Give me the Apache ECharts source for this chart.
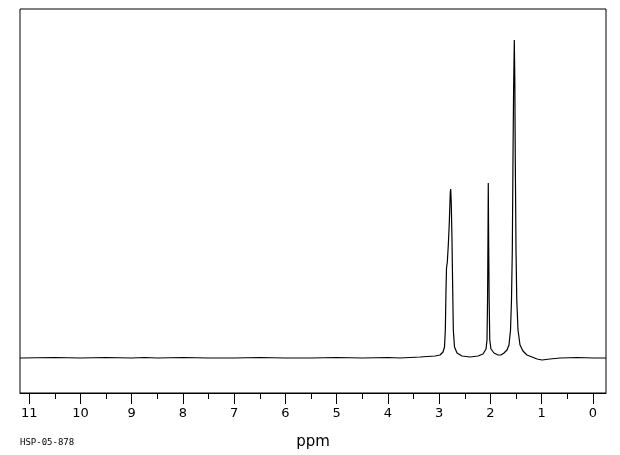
<!DOCTYPE html>
<html>
<head>
<meta charset="utf-8">
<script src="https://cdn.jsdelivr.net/npm/echarts@6/dist/echarts.min.js"></script>
<style>
    html, body { margin: 0; padding: 0; background: #fff; }
    #chart { width: 620px; height: 455px; }
</style>
</head>
<body>
<div id="chart"></div>
<script>
// chemical shift (ppm)
var shiftPpm = [
    11.18, 10.5, 10.0, 9.5, 9.0, 8.75, 8.5, 8.0, 7.5, 7.0, 6.5, 6.0, 5.5, 5.0, 4.5, 4.0,
    3.765, 3.375, 3.08, 2.985, 2.926, 2.897, 2.881, 2.868, 2.858, 2.842, 2.823, 2.803,
    2.784, 2.776, 2.764, 2.751, 2.737, 2.725, 2.702, 2.653, 2.556, 2.40, 2.243, 2.146,
    2.087, 2.068, 2.057, 2.049, 2.043, 2.036, 2.026, 2.014, 1.990, 1.931, 1.853, 1.795,
    1.736, 1.678, 1.639, 1.609, 1.590, 1.574, 1.561, 1.549, 1.535, 1.525, 1.516, 1.502,
    1.487, 1.463, 1.424, 1.366, 1.288, 1.19, 1.092, 0.995, 0.839, 0.644, 0.3, 0.0, -0.254
];
// intensity (arbitrary units)
var intensity = [
    0, 0.5, 0, 0.5, 0, 0.5, 0, 0.5, 0, 0, 0.5, 0, 0, 0.5, 0, 0.5,
    0, 1, 2, 3, 6, 11, 28, 68, 90, 96, 113, 136,
    166, 169, 153, 118, 68, 28, 11, 5, 2, 1, 2, 4,
    9, 18, 58, 118, 175, 118, 58, 18, 9, 5, 3, 3,
    5, 8, 13, 28, 58, 108, 198, 268, 318, 278, 198, 108,
    58, 28, 13, 7, 3, 1, -1, -2, -1, 0, 0.5, 0, 0
];
var majorTicks = [0, 1, 2, 3, 4, 5, 6, 7, 8, 9, 10, 11];
var minorTicks = [0.5, 1.5, 2.5, 3.5, 4.5, 5.5, 6.5, 7.5, 8.5, 9.5, 10.5];

var xMin = -0.254, xMax = 11.18;
var chart = echarts.init(document.getElementById('chart'));
var data = shiftPpm.map(function(p, i) { return [p, intensity[i]]; });

var option = {
    animation: false,
    backgroundColor: '#fff',
    grid: {
        left: 20, right: 14, top: 9, bottom: 62,
        show: true, borderColor: '#000', borderWidth: 1, backgroundColor: 'transparent'
    },
    xAxis: [{
        type: 'value', min: xMin, max: xMax, inverse: true, position: 'bottom',
        name: 'ppm', nameLocation: 'middle', nameGap: 42,
        nameTextStyle: { fontFamily: 'DejaVu Sans', fontSize: 15, color: '#000' },
        axisLine: { show: true, onZero: false, lineStyle: { color: '#000', width: 1 } },
        axisTick: { show: true, inside: false, length: 11, customValues: majorTicks, lineStyle: { color: '#000' } },
        axisLabel: { customValues: majorTicks, margin: 14, fontFamily: 'DejaVu Sans', fontSize: 13, color: '#000',
            showMinLabel: true, showMaxLabel: true },
        splitLine: { show: false }
    }, {
        type: 'value', min: xMin, max: xMax, inverse: true, position: 'bottom',
        axisLine: { show: false, onZero: false },
        axisTick: { show: true, length: 6, customValues: minorTicks, lineStyle: { color: '#000' } },
        axisLabel: { show: false },
        splitLine: { show: false }
    }],
    yAxis: {
        type: 'value', min: -35, max: 349, show: false
    },
    graphic: [{
        type: 'text', left: 20, top: 438,
        style: { text: 'HSP-05-878', fontFamily: 'DejaVu Sans Mono', fontSize: 9, fill: '#000' }
    }],
    series: [{
        type: 'line',
        data: data,
        xAxisIndex: 0,
        showSymbol: false,
        lineStyle: { color: '#000', width: 1.2 },
        silent: true
    }]
};
chart.setOption(option);
</script>
</body>
</html>
